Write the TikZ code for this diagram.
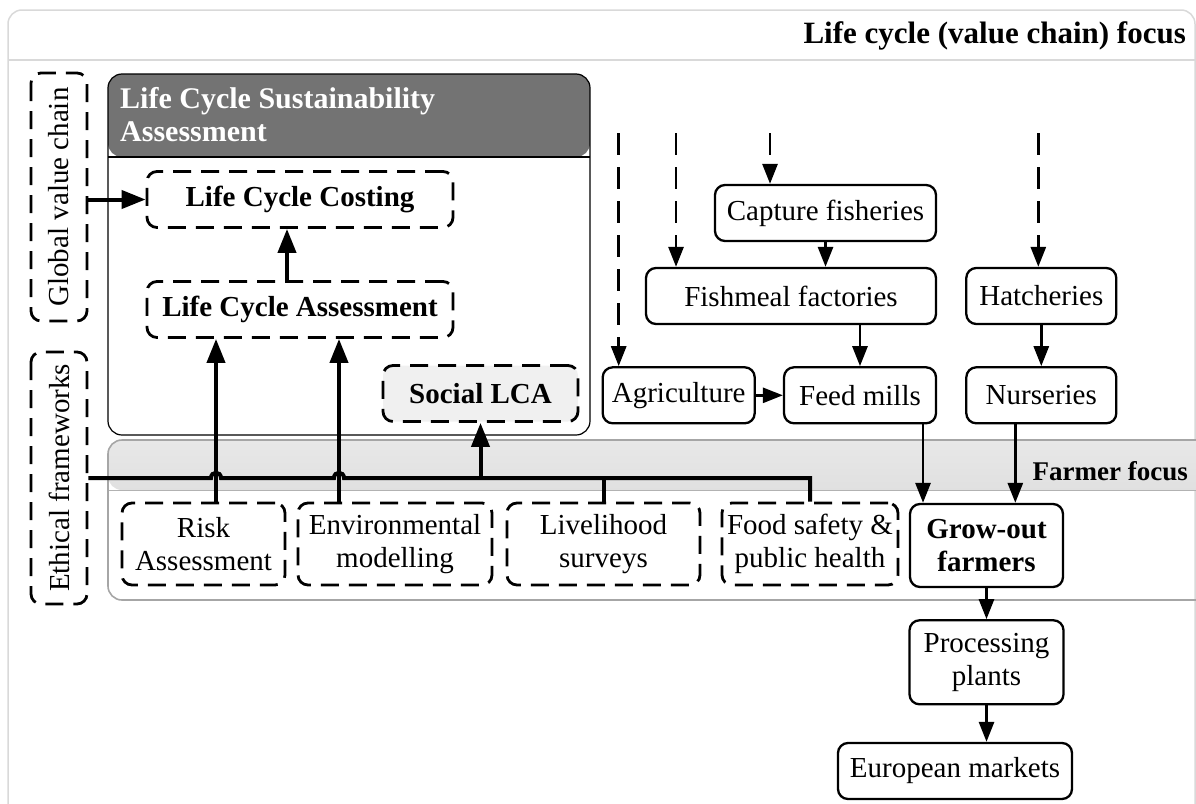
\documentclass[tikz,border=0pt]{standalone}
\usepackage{fontspec}
\setmainfont{Liberation Serif}
\usetikzlibrary{positioning, arrows.meta, shadings}
\tikzset{
box/.style={draw, rounded corners=10pt, line width=2.3pt, align=center, inner sep=2pt, minimum height=56pt}, % solid boxes of the value chain
dbox/.style={box, line width=2.8pt, dash pattern=on 18pt off 10pt}, % dashed boxes of the methods
flow/.style={line width=2.8pt, -{Triangle[length=20pt,width=15pt]}}, % arrows between the stages
inflow/.style={flow, dash pattern=on 22pt off 12pt}, % arrows coming in from the top
link/.style={line width=4pt}, % thick lines between the methods
linkarrow/.style={link, -{Triangle[length=24pt,width=18pt]}}, % thick arrows
}
\begin{document}
\begin{tikzpicture}[x=1pt, y=-1pt, font=\fontsize{29}{33}\selectfont]
\useasboundingbox (0,0) rectangle (1196,803);
% background frames
\node[draw=black!15, line width=1.5pt, rounded corners=14pt, minimum width=1187pt, minimum height=820pt,
  path picture={\draw[black!15, line width=1.5pt] ([yshift=-50pt]path picture bounding box.north west) -- ([yshift=-50pt]path picture bounding box.north east);}]
  (frame) at (601.5,420) {};
\node[anchor=base east, inner sep=0, font=\fontsize{31}{35}\selectfont\bfseries] (title) at (1186,43) {Life cycle (value chain) focus};
\node[draw=black!35, line width=1.6pt, rounded corners=14pt, minimum width=1107pt, minimum height=160pt,
  path picture={\shade[top color=black!9, bottom color=black!19] (path picture bounding box.north west) rectangle ([yshift=-50pt]path picture bounding box.north east);
    \draw[black!30, line width=1pt] ([yshift=-50pt]path picture bounding box.north west) -- ([yshift=-50pt]path picture bounding box.north east);}]
  (band) at (661.5,520) {};
\node[anchor=base east, inner sep=0, font=\fontsize{27}{31}\selectfont\bfseries] (farmer) at (1188,480) {Farmer focus};
\node[draw, line width=1.2pt, rounded corners=14pt, minimum width=482pt, minimum height=361pt,
  path picture={\fill[black!55] (path picture bounding box.north west) rectangle ([yshift=-83pt]path picture bounding box.north east);
    \draw[line width=1.2pt] ([yshift=-83pt]path picture bounding box.north west) -- ([yshift=-83pt]path picture bounding box.north east);}]
  (lcsa) at (349,254.5) {};
\node[anchor=north west, inner sep=0, align=left, text=white, font=\fontsize{30}{33}\selectfont\bfseries] (lcsatitle) at (120,87) {Life Cycle Sustainability\\Assessment};

% side boxes
\node[dbox, rotate=90, minimum width=248pt] (gvc) at (59,197) {Global value chain};
\node[dbox, rotate=90, minimum width=252pt] (ethic) at (59,478) {Ethical frameworks};

% assessment methods
\node[dbox, minimum width=306pt, font=\fontsize{29}{33}\selectfont\bfseries] (lcc) at (300,199.5) {Life Cycle Costing};
\node[dbox, minimum width=306pt, font=\fontsize{29}{33}\selectfont\bfseries] (lca) at (300,309.5) {Life Cycle Assessment};
\node[dbox, minimum width=195pt, fill=black!6, font=\fontsize{29}{33}\selectfont\bfseries] (slca) at (480.5,393.5) {Social LCA};
\node[dbox, minimum width=163pt, minimum height=82pt] (risk) at (203.5,544) {Risk\\Assessment};
\node[dbox, minimum width=194pt, minimum height=82pt] (env) at (395,544) {Environmental\\modelling};
\node[dbox, minimum width=193pt, minimum height=82pt] (live) at (603.5,544) {Livelihood\\surveys};
\node[dbox, minimum width=176pt, minimum height=82pt] (food) at (810,544) {Food safety \&\\public health};

% value chain
\node[box, minimum width=221pt] (capture) at (825.5,213) {Capture fisheries};
\node[box, minimum width=290pt] (fishmeal) at (791,296) {Fishmeal factories};
\node[box, minimum width=150pt, right=28pt of fishmeal] (hatch) {Hatcheries};
\node[box, minimum width=150pt, below=41pt of hatch] (nurs) {Nurseries};
\node[box, minimum width=152pt, left=28pt of nurs] (mills) {Feed mills};
\node[box, minimum width=152pt, left=27pt of mills] (agri) {Agriculture};
\node[box, minimum width=153pt, minimum height=83pt, font=\fontsize{29}{33}\selectfont\bfseries] (grow) at (986.5,545.5) {Grow-out\\farmers};
\node[box, minimum width=154pt, minimum height=84pt, below=31pt of grow] (proc) {Processing\\plants};
\node[box, minimum width=234pt] (euro) at (955,771) {European markets};

\coordinate (intop) at (0,133);
\coordinate (rx) at (216,0);
\coordinate (ex) at (339,0);

% inputs from the top
\draw[inflow] ([xshift=-60pt]agri.north |- intop) -- ([xshift=-60pt]agri.north);
\draw[inflow] ([xshift=-115pt]fishmeal.north |- intop) -- ([xshift=-115pt]fishmeal.north);
\draw[inflow] ([xshift=-55.5pt]capture.north |- intop) -- ([xshift=-55.5pt]capture.north);
\draw[inflow] ([xshift=-3pt]hatch.north |- intop) -- ([xshift=-3pt]hatch.north);

% flows along the chain
\draw[flow] (capture.south) -- (capture.south |- fishmeal.north);
\draw[flow] (mills.north |- fishmeal.south) -- (mills.north);
\draw[flow] (hatch) -- (nurs);
\draw[flow] (agri) -- (mills);
\draw[flow] ([xshift=63pt]mills.south) -- ([xshift=63pt]mills.south |- grow.north);
\draw[flow] ([xshift=-26pt]nurs.south) -- ([xshift=-26pt]nurs.south |- grow.north);
\draw[flow] (grow) -- (proc);
\draw[flow] (proc.south) -- (proc.south |- euro.north);

% methods feeding the assessments
\draw[linkarrow] (gvc.south |- lcc.west) -- (lcc.west);
\draw[linkarrow] ([xshift=-13pt]lca.north) -- ([xshift=-13pt]lcc.south);
\draw[link] (ethic.south) -- ([xshift=-5pt]ethic.south -| rx) .. controls +(0,-7) and +(0,-7) .. ++(10,0)
  -- ([xshift=-5pt]ethic.south -| ex) .. controls +(0,-7) and +(0,-7) .. ++(10,0) -| (food.north);
\draw[link] (live.north) -- (live.north |- ethic.south);
\draw[linkarrow] (slca.south |- ethic.south) -- (slca.south);
\draw[linkarrow] (risk.north -| rx) -- (lca.south -| rx);
\draw[linkarrow] (env.north -| ex) -- (lca.south -| ex);
\end{tikzpicture}
\end{document}
